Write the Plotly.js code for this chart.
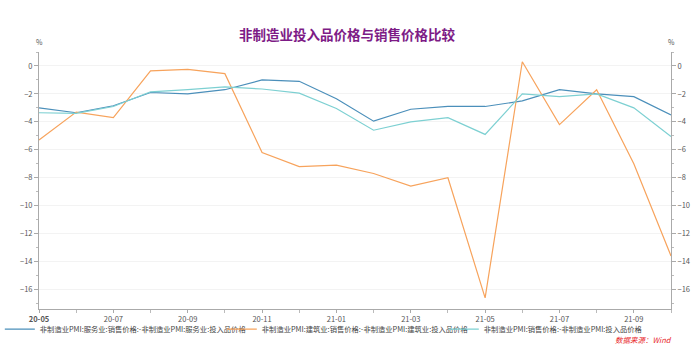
<!DOCTYPE html>
<html>
<head>
<meta charset="utf-8">
<script src="https://cdn.plot.ly/plotly-3.0.1.min.js"></script>
<style>html,body{margin:0;padding:0;background:#fff;}#chart{width:694px;height:345px;}</style>
</head>
<body>
<div id="chart"></div>
<script>
const months = ['20-05','20-06','20-07','20-08','20-09','20-10','20-11','20-12','21-01','21-02','21-03','21-04','21-05','21-06','21-07','21-08','21-09','21-10'];
const seriesNames = [
  '非制造业PMI:服务业:销售价格:-非制造业PMI:服务业:投入品价格',
  '非制造业PMI:建筑业:销售价格:-非制造业PMI:建筑业:投入品价格',
  '非制造业PMI:销售价格:-非制造业PMI:投入品价格'
];
const services = [-3.0,-3.35,-2.85,-1.9,-2.0,-1.7,-1.0,-1.1,-2.35,-3.95,-3.1,-2.9,-2.9,-2.5,-1.7,-2.0,-2.2,-3.5];
const construction = [-5.3,-3.3,-3.7,-0.35,-0.25,-0.55,-6.2,-7.2,-7.1,-7.7,-8.6,-8.0,-16.6,0.3,-4.2,-1.7,-7.0,-13.6];
const overall = [-3.35,-3.4,-2.9,-1.85,-1.7,-1.5,-1.65,-1.95,-3.05,-4.6,-4.0,-3.7,-4.9,-2.0,-2.2,-2.0,-3.0,-5.05];
const xTickLabels = ['<b>20-05</b>','20-07','20-09','20-11','21-01','21-03','21-05','21-07','21-09'];
const colors = ['#4b8fba','#f7a35c','#7dd0d2'];

const xIdx = months.map((m,i)=>i);
const tickVals = [];
for (let i=0;i<months.length;i+=2) tickVals.push(i);

const font = "'Noto Sans CJK SC','Noto Sans',sans-serif";
const traces = [services, construction, overall].map((vals,k)=>({
  x: xIdx, y: vals, name: seriesNames[k], type:'scatter', mode:'lines',
  line:{color:colors[k], width:1.2}, hoverinfo:'skip'
}));
traces.push({x: xIdx, y: overall, yaxis:'y2', mode:'lines', line:{width:0,color:'rgba(0,0,0,0)'}, showlegend:false, hoverinfo:'skip'});

const yCommon = {
  range:[-17.4,1.0], dtick:2, tick0:0, showline:true, linecolor:'#aaa', linewidth:1,
  ticks:'outside', ticklen:4, tickcolor:'#aaa', tickfont:{size:7.5,color:'#555',family:font},
  zeroline:false, minor:{dtick:1, ticks:'outside', ticklen:2, tickcolor:'#bbb'}
};
const layout = {
  width:694, height:345,
  margin:{l:39,r:23,t:52,b:36,autoexpand:false},
  paper_bgcolor:'#fff', plot_bgcolor:'#fff',
  font:{family:font},
  title:{text:'<b>非制造业投入品价格与销售价格比较</b>', font:{size:13.5,color:'#7d1b86',family:font}, x:0.5, xanchor:'center', y:0.898, yanchor:'middle'},
  xaxis:{range:[0,17], tickvals:tickVals, ticktext:xTickLabels, showline:true, linecolor:'#aaa', linewidth:1,
    ticks:'outside', ticklen:3, tickcolor:'#aaa', tickfont:{size:7.5,color:'#555',family:font},
    showgrid:false, zeroline:false, minor:{dtick:1, tick0:0, ticks:'outside', ticklen:3, tickcolor:'#bbb'}},
  yaxis:Object.assign({}, yCommon, {side:'left', showgrid:true, gridcolor:'#f3f3f3', gridwidth:1}),
  yaxis2:Object.assign({}, yCommon, {side:'right', overlaying:'y', showgrid:false}),
  showlegend:true,
  legend:{orientation:'h', x:-0.062, xanchor:'left', y:-0.078, yanchor:'middle', font:{size:7.3,color:'#444',family:font},
    itemwidth:30, entrywidth:177, entrywidthmode:'pixels', tracegroupgap:0, bgcolor:'rgba(0,0,0,0)'},
  annotations:[
    {text:'%', xref:'paper', yref:'paper', x:0, y:1.01, xanchor:'center', yanchor:'bottom', showarrow:false, font:{size:7,color:'#555',family:font}},
    {text:'%', xref:'paper', yref:'paper', x:1, y:1.01, xanchor:'center', yanchor:'bottom', showarrow:false, font:{size:7,color:'#555',family:font}},
    {text:'<i>数据来源：Wind</i>', xref:'paper', yref:'paper', x:1.003, y:-0.117, xanchor:'right', yanchor:'middle', showarrow:false, borderpad:0, font:{size:7.5,color:'#e8282b',family:font}}
  ]
};
Plotly.newPlot('chart', traces, layout, {displayModeBar:false, staticPlot:true});
</script>
</body>
</html>
